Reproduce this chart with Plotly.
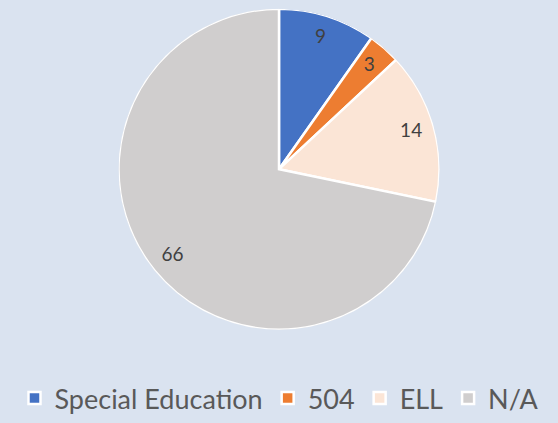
import plotly.graph_objects as go

categories = ["Special Education", "504", "ELL", "N/A"]
values = [9, 3, 14, 66]
colors = ["#4472C4", "#ED7D31", "#FBE5D6", "#D0CECE"]

total = sum(values)
mid_angles = []
spans = []
acc = 0
for v in values:
    mid_angles.append((acc + v / 2) / total * 360)
    spans.append(v / total * 360)
    acc += v

dom_y = [1 - 341 / 423, 1 - 9 / 423]

fig = go.Figure()
for name, v, c, th, w in zip(categories, values, colors, mid_angles, spans):
    fig.add_trace(go.Barpolar(
        r=[1], theta=[th], width=[w], name=name,
        marker=dict(color=c, line=dict(color="white", width=2.5)),
        hovertext=[f"{name}: {v}"], hoverinfo="text",
    ))
fig.add_trace(go.Scatterpolar(
    r=[0.855] * len(values),
    theta=mid_angles,
    mode="text",
    text=[str(v) for v in values],
    textfont=dict(family="Lato, Open Sans, sans-serif", size=19, color="#404040"),
    showlegend=False,
    hoverinfo="skip",
))

fig.update_layout(
    width=558, height=423,
    margin=dict(l=0, r=0, t=0, b=0),
    paper_bgcolor="#DAE3F0",
    plot_bgcolor="#DAE3F0",
    showlegend=True,
    polar=dict(
        domain=dict(x=[0, 1], y=dom_y),
        bgcolor="rgba(0,0,0,0)",
        radialaxis=dict(range=[0, 1], visible=False, showgrid=False),
        angularaxis=dict(rotation=90, direction="clockwise", visible=False, showgrid=False),
    ),
    legend=dict(
        orientation="h",
        x=0.5, xanchor="center",
        y=0.025, yanchor="middle",
        font=dict(family="Lato, Open Sans, sans-serif", size=27, color="#595959"),
        bgcolor="rgba(0,0,0,0)",
        itemwidth=30,
        traceorder="normal",
    ),
)

fig.write_html("out.html", config={"displayModeBar": False},
               post_script="document.body.style.margin='0px';")
